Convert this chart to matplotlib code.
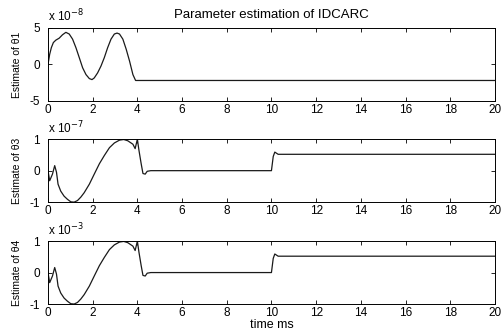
"""
Parameter estimation of IDCARC: estimates of theta1, theta3 and theta4 vs time
"""

import numpy as np
import matplotlib
matplotlib.use('Agg')
import matplotlib.pyplot as plt
from matplotlib.ticker import ScalarFormatter

plt.rcParams['font.family'] = ['Liberation Sans', 'DejaVu Sans']
plt.rcParams['axes.unicode_minus'] = False

## Data (time in ms)
t1 = [0, 0.075, 0.15, 0.24, 0.35, 0.5, 0.65, 0.8, 0.95, 1.1, 1.25, 1.4, 1.55, 1.7,
      1.85, 1.97, 2.07, 2.22, 2.37, 2.52, 2.67, 2.82, 2.97, 3.09, 3.2, 3.35, 3.5,
      3.65, 3.8, 3.92, 20]
theta1 = np.array([0, 1.39, 2.3, 3.0, 3.33, 3.6, 4.07, 4.4, 4.17, 3.47, 2.3, 0.93,
                   -0.46, -1.39, -1.94, -2.08, -1.85, -1.16, -0.23, 0.93, 2.3, 3.47,
                   4.17, 4.3, 4.17, 3.47, 2.08, 0.46, -1.39, -2.2, -2.2]) * 1e-8

t3 = [0, 0.075, 0.2, 0.3, 0.38, 0.45, 0.57, 0.72, 0.87, 1.02, 1.17, 1.32, 1.47, 1.62,
      1.85, 2.07, 2.3, 2.52, 2.75, 2.97, 3.2, 3.39, 3.57, 3.8, 3.9, 4.0, 4.07, 4.17,
      4.25, 4.35, 4.44, 4.6, 10.0, 10.08, 10.15, 10.3, 20]
shape3 = [0, -0.32, -0.11, 0.16, -0.05, -0.43, -0.65, -0.81, -0.91, -0.99, -1.0, -0.95,
          -0.84, -0.7, -0.43, -0.11, 0.22, 0.48, 0.73, 0.88, 0.97, 0.99, 0.95, 0.84,
          0.7, 1.0, 0.65, 0.22, -0.09, -0.11, -0.02, 0.0, 0.0, 0.45, 0.59, 0.52, 0.52]
theta3 = np.array(shape3) * 1e-7
theta4 = np.array(shape3) * 1e-3

ylims = [5e-8, 1e-7, 1e-3]
exponents = [-8, -7, -3]
ylabels = ['Estimate of θ1', 'Estimate of θ3', 'Estimate of θ4']
series = [(t1, theta1), (t3, theta3), (t3, theta4)]

fig = plt.figure(figsize=(5.01, 3.33), dpi=100)
# axes boxes: [left, bottom, width, height] in figure fraction
boxes = [[0.0958, 0.697, 0.892, 0.219],
         [0.0958, 0.393, 0.892, 0.189],
         [0.0958, 0.087, 0.892, 0.189]]

for i, ((t, y), box) in enumerate(zip(series, boxes)):
    ax = fig.add_axes(box)
    ax.plot(t, y, color='#1a1a1a', lw=0.9)
    lim = ylims[i]
    ax.set_xlim(0, 20)
    ax.set_ylim(-lim, lim)
    ax.set_xticks(np.arange(0, 21, 2))
    ax.set_yticks([-lim, 0, lim])
    fmt = ScalarFormatter()
    fmt.set_powerlimits((0, 0))
    ax.yaxis.set_major_formatter(fmt)
    ax.yaxis.get_offset_text().set_visible(False)
    ax.annotate(r'x 10$^{%d}$' % exponents[i], xy=(0, 1), xycoords='axes fraction',
                xytext=(0, 4.5), textcoords='offset points', fontsize=8.5,
                ha='left', va='baseline')
    ax.tick_params(direction='in', top=True, right=True, length=3, width=0.6,
                   labelsize=8.5)
    ax.tick_params(axis='x', pad=2)
    ax.tick_params(axis='y', pad=6)
    for sp in ax.spines.values():
        sp.set_linewidth(0.7)
    ax.set_ylabel(ylabels[i], fontsize=7.5, labelpad=5)
    if i == 0:
        ax.set_title('Parameter estimation of IDCARC', fontsize=9.5, pad=7)
    if i == 2:
        ax.set_xlabel('time ms', fontsize=9, labelpad=0)

fig.savefig('out.png', dpi=100)
